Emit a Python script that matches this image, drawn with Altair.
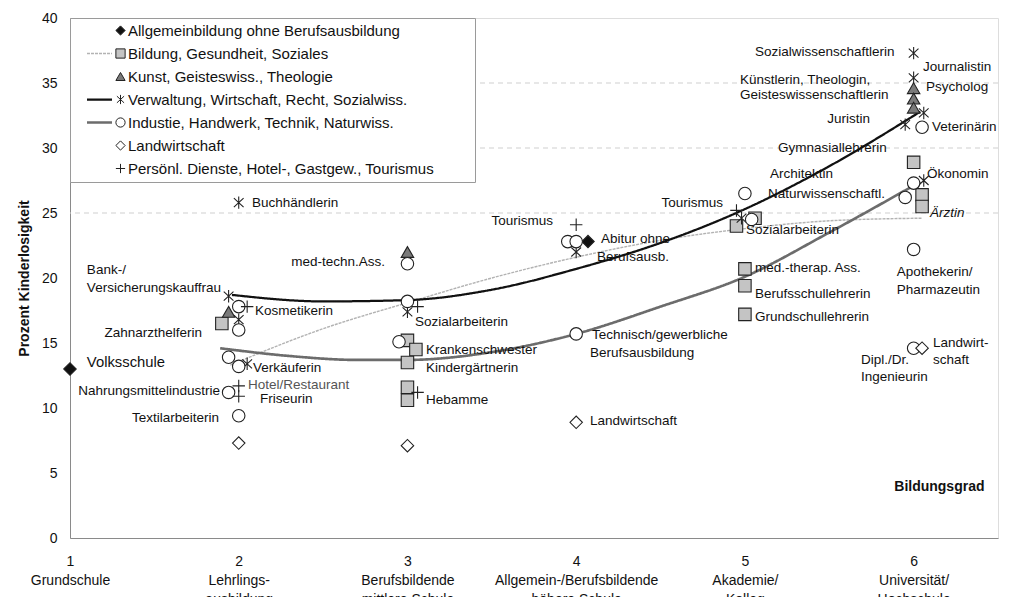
import json
import altair as alt
import pandas as pd

FONT = "Liberation Sans"

# ---------------- categories ----------------
groups = [
    "Allgemeinbildung ohne Berufsausbildung",
    "Bildung, Gesundheit, Soziales",
    "Kunst, Geisteswiss., Theologie",
    "Verwaltung, Wirtschaft, Recht, Sozialwiss.",
    "Industie, Handwerk, Technik, Naturwiss.",
    "Landwirtschaft",
    "Persönl. Dienste, Hotel-, Gastgew., Tourismus",
]
shape_paths = [
    "diamond",
    "square",
    "triangle-up",
    "M0,-1L0,1M-0.78,-0.72L0.78,0.72M-0.78,0.72L0.78,-0.72",
    "circle",
    "diamond",
    "M-1,0L1,0M0,-1L0,1",
]
fill_colors = ["#111111", "#c4c4c4", "#7a7a7a", "#ffffff", "#ffffff", "#ffffff", "#ffffff"]

# ---------------- point series (Bildungsgrad, Prozent Kinderlosigkeit) ----------------
allg_x = [1.00, 4.07]
allg_y = [13.0, 22.8]
bild_x = [1.90, 3.00, 3.05, 3.00, 3.00, 3.00, 4.95, 5.06, 5.00, 5.00, 5.00, 6.00, 6.05, 6.05]
bild_y = [16.5, 15.2, 14.5, 13.5, 11.6, 10.6, 24.0, 24.6, 20.7, 19.4, 17.2, 28.9, 26.4, 25.5]
kunst_x = [1.94, 3.00, 6.00, 6.00, 6.00]
kunst_y = [17.4, 22.0, 34.6, 33.8, 33.1]
verw_x = [2.00, 1.94, 2.00, 2.05, 3.00, 4.00, 4.98, 6.00, 6.00, 6.06, 5.95, 6.06]
verw_y = [25.8, 18.6, 16.8, 13.4, 17.4, 22.0, 24.6, 37.3, 35.4, 32.7, 31.8, 27.5]
ind_x = [2.00, 2.00, 1.94, 2.00, 1.94, 2.00, 3.00, 3.00, 2.95, 3.95, 4.00, 4.00, 5.00, 5.04,
         6.05, 6.00, 5.95, 6.00, 6.00]
ind_y = [17.8, 16.0, 13.9, 13.2, 11.2, 9.4, 21.1, 18.2, 15.1, 22.8, 22.8, 15.7, 26.5, 24.5,
         31.6, 27.3, 26.2, 22.2, 14.6]
land_x = [2.00, 3.00, 4.00, 6.05]
land_y = [7.3, 7.1, 8.9, 14.6]
pers_x = [2.05, 2.00, 2.00, 3.06, 3.06, 4.00, 4.95]
pers_y = [17.8, 11.7, 10.9, 17.8, 11.2, 24.1, 25.2]

# ---------------- trend curves ----------------
trend_bild_x = [1.95, 2.5, 3.0, 3.5, 4.0, 4.5, 5.0, 5.5, 6.05]
trend_bild_y = [13.3, 16.1, 18.1, 20.0, 21.6, 22.9, 23.8, 24.4, 24.6]
trend_verw_x = [1.96, 2.5, 3.0, 3.5, 4.0, 4.5, 5.0, 5.5, 6.04]
trend_verw_y = [18.7, 18.2, 18.3, 19.1, 20.7, 22.7, 25.3, 28.6, 32.8]
trend_ind_x = [1.89, 2.3, 2.7, 3.0, 3.5, 4.0, 4.5, 5.0, 5.5, 6.04]
trend_ind_y = [14.6, 14.0, 13.7, 13.7, 14.3, 15.7, 17.8, 20.1, 23.5, 27.4]

trend_domain = [g + " (Trend)" for g in groups]
trend_colors = ["transparent", "#b3b3b3", "transparent", "#111111", "#6c6c6c", "transparent", "transparent"]
trend_dash = [[1, 0], [3, 1], [1, 0], [1, 0], [1, 0], [1, 0], [1, 0]]
trend_width = [1, 3.5, 1, 1.3, 4.5, 1, 1]

# ---------------- annotations ----------------
lab_left_x = [1.10, 1.10, 2.096, 2.085, 2.126, 2.079, 3.045, 3.11, 3.11, 3.11,
              4.147, 4.123, 4.094, 4.082, 4.082, 5.149, 5.137, 5.006, 5.06, 5.06, 5.06,
              5.196, 4.971, 4.971, 5.06, 6.055, 6.073, 6.109, 6.079, 5.90, 5.90,
              6.115, 6.115, 5.688, 5.688]
lab_left_y = [20.6, 19.2, 17.5, 13.1, 10.7, 25.8, 16.6, 14.5, 13.1, 10.6,
              23.0, 21.6, 15.6, 14.2, 9.0, 28.0, 26.5, 23.7, 20.8, 18.8, 17.0,
              30.0, 35.2, 34.1, 37.4, 36.2, 34.7, 31.6, 28.0, 20.5, 19.1,
              15.0, 13.7, 13.7, 12.4]
lab_left_text = ["Bank-/", "Versicherungskauffrau", "Kosmetikerin", "Verkäuferin", "Friseurin",
                 "Buchhändlerin", "Sozialarbeiterin", "Krankenschwester", "Kindergärtnerin", "Hebamme",
                 "Abitur ohne", "Berufsausb.", "Technisch/gewerbliche", "Berufsausbildung",
                 "Landwirtschaft", "Architektin", "Naturwissenschaftl.", "Sozialarbeiterin",
                 "med.-therap. Ass.", "Berufsschullehrerin", "Grundschullehrerin",
                 "Gymnasiallehrerin", "Künstlerin, Theologin,", "Geisteswissenschaftlerin",
                 "Sozialwissenschaftlerin", "Journalistin", "Psycholog", "Veterinärin", "Ökonomin",
                 "Apothekerin/", "Pharmazeutin", "Landwirt-", "schaft", "Dipl./Dr.", "Ingenieurin"]
lab_right_x = [1.782, 1.889, 1.883, 2.867, 3.863, 4.87, 5.741]
lab_right_y = [15.8, 11.3, 9.2, 21.2, 24.4, 25.8, 32.2]
lab_right_text = ["Zahnarzthelferin", "Nahrungsmittelindustrie", "Textilarbeiterin",
                  "med-techn.Ass.", "Tourismus", "Tourismus", "Juristin"]
lab_gray_x = [2.055]
lab_gray_y = [11.8]
lab_gray_text = ["Hotel/Restaurant"]
lab_italic_x = [6.097]
lab_italic_y = [25.0]
lab_italic_text = ["Ärztin"]
lab_big_x = [1.10]
lab_big_y = [13.5]
lab_big_text = ["Volksschule"]
lab_axis_x = [6.42]
lab_axis_y = [3.9]
lab_axis_text = ["Bildungsgrad"]

grid_y = [25, 30, 35]
x_ticks = [1, 2, 3, 4, 5, 6]
x_tick_lines = [["1", "Grundschule"], ["2", "Lehrlings-", "ausbildung"],
                ["3", "Berufsbildende", "mittlere Schule"],
                ["4", "Allgemein-/Berufsbildende", "höhere Schule"],
                ["5", "Akademie/", "Kolleg"], ["6", "Universität/", "Hochschule"]]
y_ticks = [0, 5, 10, 15, 20, 25, 30, 35, 40]

# ---------------- tables ----------------
series_xy = [(allg_x, allg_y), (bild_x, bild_y), (kunst_x, kunst_y), (verw_x, verw_y),
             (ind_x, ind_y), (land_x, land_y), (pers_x, pers_y)]
rows = []
for g, (xs, ys) in zip(groups, series_xy):
    for xv, yv in zip(xs, ys):
        rows.append({"x": xv, "y": yv, "Gruppe": g})
points_df = pd.DataFrame(rows)

trows = []
for key, xs, ys in [(trend_domain[1], trend_bild_x, trend_bild_y),
                    (trend_domain[3], trend_verw_x, trend_verw_y),
                    (trend_domain[4], trend_ind_x, trend_ind_y)]:
    for i, (xv, yv) in enumerate(zip(xs, ys)):
        trows.append({"x": xv, "y": yv, "Trend": key, "o": i})
trend_df = pd.DataFrame(trows)


def lab_df(xs, ys, ts):
    return pd.DataFrame({"x": xs, "y": ys, "t": ts})


# ---------------- encodings ----------------
x_label_expr = json.dumps(x_tick_lines, ensure_ascii=False) + "[datum.value - 1]"
x_axis = alt.Axis(values=x_ticks, labelExpr=x_label_expr, labelFont=FONT, labelFontSize=14,
                  labelColor="#111", labelLineHeight=19, labelPadding=16, tickSize=0,
                  domainColor="#8a8a8a", grid=False, labelFlush=False, labelOverlap=False)
y_axis = alt.Axis(values=y_ticks, labelFont=FONT, labelFontSize=14, labelColor="#111",
                  labelPadding=13, tickSize=0, domainColor="#8a8a8a", grid=False,
                  title="Prozent Kinderlosigkeit", titleFont=FONT, titleFontSize=14,
                  titleFontWeight="bold", titleColor="#111", titlePadding=10)
X = alt.X("x:Q", scale=alt.Scale(domain=[1, 6.5], nice=False, zero=False), axis=x_axis, title=None)
Y = alt.Y("y:Q", scale=alt.Scale(domain=[0, 40], nice=False, zero=True), axis=y_axis,
          title="Prozent Kinderlosigkeit")

# symbol legend (no box of its own) drawn over the line legend, which carries the box
legend_a = alt.Legend(orient="none", legendX=0, legendY=0,
                      padding=5, labelFont=FONT, labelFontSize=15, labelColor="#111",
                      labelLimit=700, labelOffset=0, symbolSize=85, symbolOffset=38,
                      rowPadding=7, symbolStrokeWidth=1)
legend_b = alt.Legend(orient="none", legendX=0, legendY=0, padding=5, labelFont=FONT,
                      fillColor="white", strokeColor="#9a9a9a",
                      labelFontSize=15, labelOpacity=0, labelLimit=700, labelOffset=4,
                      symbolSize=100, symbolOffset=17, rowPadding=7,
                      symbolType="M-2.5,0L2.5,0")

grid = alt.Chart(pd.DataFrame({"y": grid_y})).mark_rule(
    stroke="#cfcfcf", strokeDash=[5, 4], strokeWidth=1).encode(y=Y)

trend = alt.Chart(trend_df).mark_line(interpolate="monotone", strokeCap="butt").encode(
    x=X, y=Y, order="o:Q",
    stroke=alt.Stroke("Trend:N", title=None, legend=legend_b,
                      scale=alt.Scale(domain=trend_domain, range=trend_colors)),
    strokeDash=alt.StrokeDash("Trend:N", title=None, legend=legend_b,
                              scale=alt.Scale(domain=trend_domain, range=trend_dash)),
    strokeWidth=alt.StrokeWidth("Trend:N", title=None, legend=legend_b,
                                scale=alt.Scale(domain=trend_domain, range=trend_width)),
)

pts = alt.Chart(points_df).mark_point(filled=True, size=155, stroke="#222222", strokeWidth=1.1,
                                      opacity=1).encode(
    x=X, y=Y,
    shape=alt.Shape("Gruppe:N", title=None, legend=legend_a,
                    scale=alt.Scale(domain=groups, range=shape_paths)),
    fill=alt.Fill("Gruppe:N", title=None, legend=legend_a,
                  scale=alt.Scale(domain=groups, range=fill_colors)),
)


def text_layer(df, align="left", size=13.5, color="#111", style="normal", weight="normal"):
    return alt.Chart(df).mark_text(align=align, baseline="middle", font=FONT, fontSize=size,
                                   color=color, fontStyle=style, fontWeight=weight).encode(
        x=X, y=Y, text="t:N")


t_left = text_layer(lab_df(lab_left_x, lab_left_y, lab_left_text))
t_right = text_layer(lab_df(lab_right_x, lab_right_y, lab_right_text), align="right")
t_gray = text_layer(lab_df(lab_gray_x, lab_gray_y, lab_gray_text), color="#555555")
t_ital = text_layer(lab_df(lab_italic_x, lab_italic_y, lab_italic_text), style="italic")
t_big = text_layer(lab_df(lab_big_x, lab_big_y, lab_big_text), size=14.8)
t_axis = text_layer(lab_df(lab_axis_x, lab_axis_y, lab_axis_text), align="right", size=14,
                    weight="bold")

chart = alt.layer(grid, trend, pts, t_left, t_right, t_gray, t_ital, t_big, t_axis).properties(
    width=928, height=520,
    autosize=alt.AutoSizeParams(type="none"),
    padding={"left": 62, "top": 10, "right": 3, "bottom": 59},
).configure_view(stroke="#9a9a9a", strokeWidth=1).configure(background="white")

chart.save("out.html", embed_options={"renderer": "svg", "actions": False})
